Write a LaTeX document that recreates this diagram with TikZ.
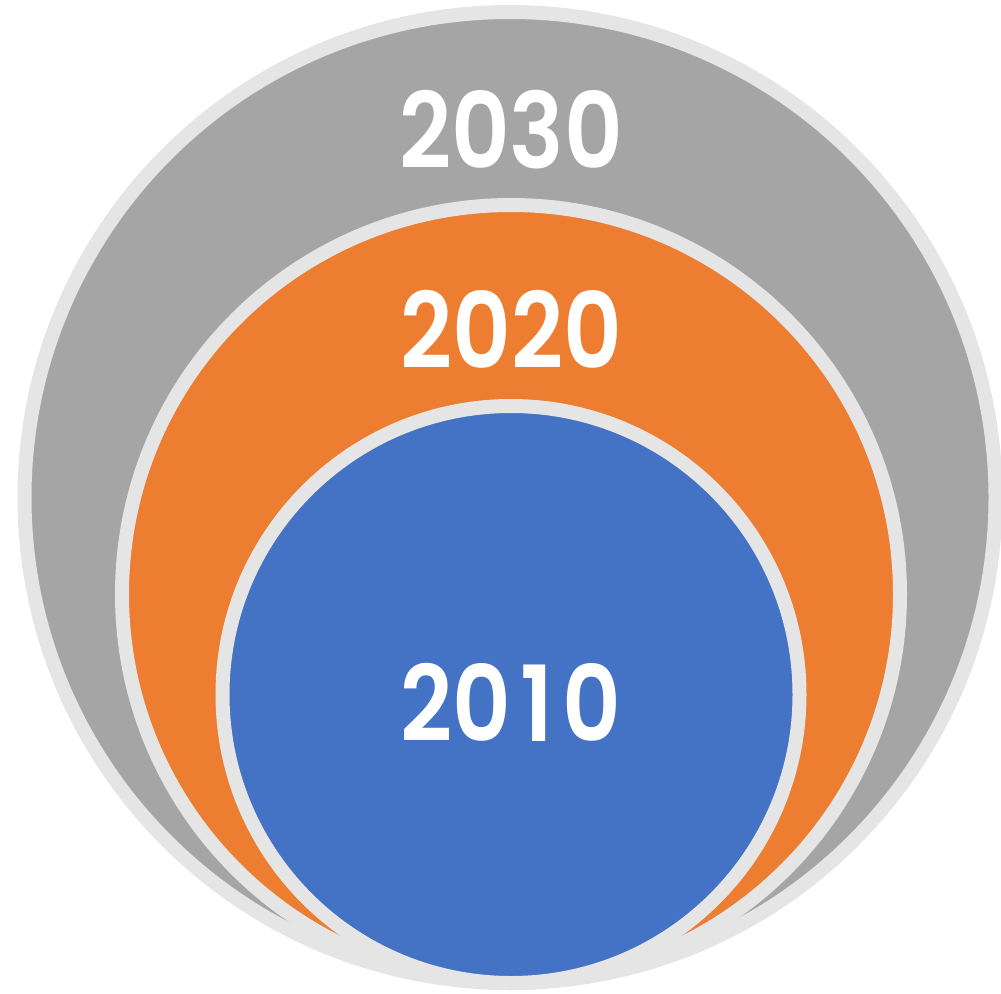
\documentclass[tikz,border=0pt]{standalone}
\usepackage{fontspec}
\setmainfont{Poppins}[BoldFont={Poppins SemiBold}]
\usepackage{tikz}

\definecolor{ringline}{HTML}{E6E5E6}
\definecolor{gray30}{HTML}{A5A5A5}
\definecolor{orange20}{HTML}{ED7D31}
\definecolor{blue10}{HTML}{4472C4}

\newcommand{\narrowyear}[1]{\scalebox{0.865}[1]{#1}}

\tikzset{
  ring/.style={draw=ringline, line width=14pt},
  year/.style={text=white, font=\fontsize{105}{105}\selectfont\bfseries, inner sep=0pt}
}

\begin{document}
\begin{tikzpicture}[x=1pt, y=-1pt]
      \useasboundingbox (0,0) rectangle (1001,993);

      % Kreise
      \draw [ring, fill=gray30]   (510,497.5) circle (485.5);
      \draw [ring, fill=orange20] (511,594)   circle (389);
      \draw [ring, fill=blue10]   (511,694.5) circle (288.5);

      % Jahre
      \node [year] (y2030) at (511,130) {\narrowyear{2030}};
      \node [year] (y2020) at (511,329) {\narrowyear{2020}};
      \node [year] (y2010) at (511,702) {\narrowyear{20\kern11pt1\kern11pt0}};
    \end{tikzpicture}
\end{document}
